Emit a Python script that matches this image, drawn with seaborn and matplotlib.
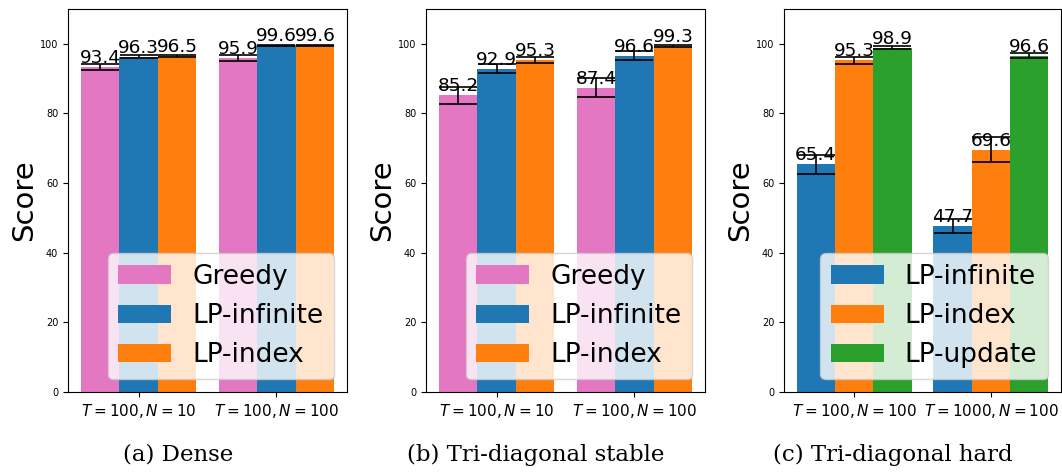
import matplotlib
matplotlib.use("Agg")
import matplotlib.pyplot as plt
import seaborn as sns
import pandas as pd
import numpy as np

# ---- data ----
groups_a = ["$T=100, N=10$", "$T=100, N=100$"]
methods_a = ["Greedy", "LP-infinite", "LP-index"]
vals_a = {"Greedy": [93.4, 95.9], "LP-infinite": [96.3, 99.6], "LP-index": [96.5, 99.6]}
errs_a = {"Greedy": [0.8, 0.95], "LP-infinite": [0.4, 0.15], "LP-index": [0.35, 0.1]}

groups_b = ["$T=100, N=10$", "$T=100, N=100$"]
methods_b = ["Greedy", "LP-infinite", "LP-index"]
vals_b = {"Greedy": [85.2, 87.4], "LP-infinite": [92.9, 96.6], "LP-index": [95.3, 99.3]}
errs_b = {"Greedy": [2.5, 2.8], "LP-infinite": [1.2, 1.2], "LP-index": [0.8, 0.3]}

groups_c = ["$T=100, N=100$", "$T=1000, N=100$"]
methods_c = ["LP-infinite", "LP-index", "LP-update"]
vals_c = {"LP-infinite": [65.4, 47.7], "LP-index": [95.3, 69.6], "LP-update": [98.9, 96.6]}
errs_c = {"LP-infinite": [2.7, 2.05], "LP-index": [1.05, 3.55], "LP-update": [0.35, 0.65]}

captions = ["(a) Dense", "(b) Tri-diagonal stable", "(c) Tri-diagonal hard"]

colors = {"Greedy": "#e377c2", "LP-infinite": "#1f77b4",
          "LP-index": "#ff7f0e", "LP-update": "#2ca02c"}

W, H = 1062, 472
fig = plt.figure(figsize=(W / 100, H / 100), dpi=100)

axes_px = [(68, 347), (426, 705), (784, 1061)]
top_px, bot_px = 9, 392
caption_x = [178, 536, 893]

panels = [(groups_a, methods_a, vals_a, errs_a),
          (groups_b, methods_b, vals_b, errs_b),
          (groups_c, methods_c, vals_c, errs_c)]

for i, ((groups, methods, vals, errs), (l, r)) in enumerate(zip(panels, axes_px)):
    ax = fig.add_axes([l / W, 1 - bot_px / H, (r - l) / W, (bot_px - top_px) / H])
    rows = []
    for m in methods:
        for g, v, e in zip(groups, vals[m], errs[m]):
            rows.append({"group": g, "method": m, "score": v, "err": e})
    df = pd.DataFrame(rows)
    sns.barplot(data=df, x="group", y="score", hue="method", order=groups,
                hue_order=methods, palette=[colors[m] for m in methods],
                errorbar=None, width=0.84, saturation=1, ax=ax, legend=True)
    for m, cont in zip(methods, ax.containers):
        xs = [p.get_x() + p.get_width() / 2 for p in cont.patches]
        ys = [p.get_height() for p in cont.patches]
        ax.errorbar(xs, ys, yerr=errs[m], fmt="none", ecolor="black",
                    elinewidth=1.2, capsize=13.8, capthick=1.2, zorder=3)
        ax.bar_label(cont, fmt="%.1f", fontsize=13.3, padding=0)
    ax.set_ylim(0, 110)
    ax.set_xlim(-0.512, 1.512)
    ax.set_xlabel("")
    ax.set_ylabel("Score", fontsize=21, labelpad=1.5)
    ax.tick_params(axis="y", labelsize=7)
    ax.tick_params(axis="x", labelsize=11)
    ax.legend(loc="lower right", fontsize=19, framealpha=0.8)
    fig.text(caption_x[i] / W, 1 - 455 / H, captions[i], ha="center", va="center",
             fontsize=16.5, family="DejaVu Serif")

fig.savefig("out.png", dpi=100)
